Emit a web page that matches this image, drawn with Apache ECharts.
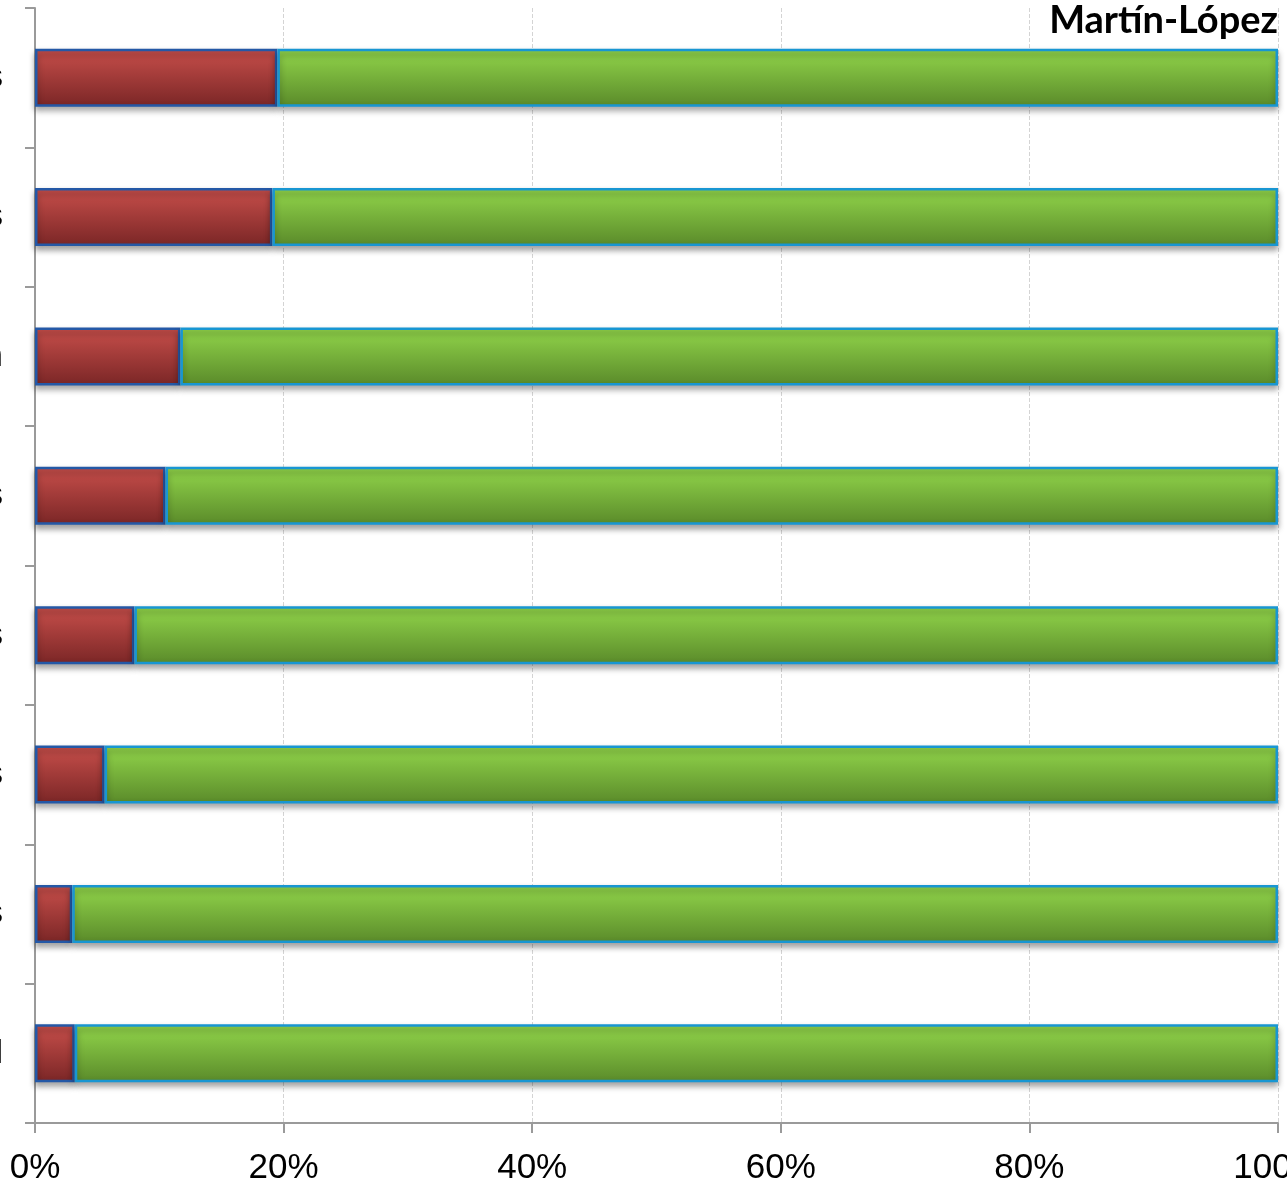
<!DOCTYPE html>
<html>
<head>
<meta charset="utf-8">
<style>
  html, body { margin: 0; padding: 0; background: #ffffff; }
  #chart { width: 1287px; height: 1189px; }
</style>
<script src="https://cdn.jsdelivr.net/npm/echarts@6/dist/echarts.min.js"></script>
</head>
<body>
<div id="chart"></div>
<script>
// Categories, listed top to bottom
const categories = [
  'Humedales costeros',
  'Bosques mediterráneos',
  'Pinares de Aragón',
  'Dehesas ibéricas',
  'Estepas cerealistas',
  'Ríos y riberas',
  'Sistemas agrícolas',
  'Espacio litoral'
];
// Share of each row in percent (the two parts sum to 100)
const redShare   = [19.5, 19.1, 11.7, 10.5, 8.0, 5.6, 3.0, 3.2];
const greenShare = [80.5, 80.9, 88.3, 89.5, 92.0, 94.4, 97.0, 96.8];
const xTicks = [0, 20, 40, 60, 80, 100];
const titleText = 'Martín-López';

const chart = echarts.init(document.getElementById('chart'), null, { renderer: 'canvas' });

function vGrad(top, bottom) {
  return new echarts.graphic.LinearGradient(0, 0, 0, 1, [
    { offset: 0, color: top },
    { offset: 1, color: bottom }
  ]);
}

const barShadow = {
  shadowColor: 'rgba(0,0,0,0.35)',
  shadowBlur: 6,
  shadowOffsetY: 4
};

chart.setOption({
  animation: false,
  backgroundColor: '#ffffff',
  title: {
    text: titleText,
    right: 4,
    top: -3,
    textStyle: {
      fontFamily: 'Lato',
      fontWeight: 'bold',
      fontSize: 38,
      color: '#000000'
    }
  },
  grid: {
    left: 35,
    right: 9,
    top: 8,
    bottom: 66,
    containLabel: false,
    outerBoundsMode: 'none'
  },
  xAxis: {
    type: 'value',
    min: xTicks[0],
    max: xTicks[xTicks.length - 1],
    interval: 20,
    axisLine: { show: true, lineStyle: { color: '#9a9a9a', width: 2 } },
    axisTick: { show: true, length: 10, lineStyle: { color: '#9a9a9a', width: 2 } },
    axisLabel: {
      formatter: v => v + '%',
      fontFamily: 'Liberation Sans',
      fontSize: 35,
      color: '#000000',
      margin: 28
    },
    splitLine: {
      show: true,
      lineStyle: { color: '#d4d4d4', width: 1, type: 'dashed' }
    }
  },
  yAxis: {
    type: 'category',
    data: categories,
    inverse: true,
    axisLine: { show: true, lineStyle: { color: '#9a9a9a', width: 2 } },
    axisTick: { show: true, length: 10, alignWithLabel: false, lineStyle: { color: '#9a9a9a', width: 2 } },
    axisLabel: {
      fontFamily: 'Liberation Sans',
      fontSize: 34,
      color: '#000000',
      margin: 32
    },
    splitLine: { show: false }
  },
  series: [
    {
      name: 'red',
      type: 'bar',
      stack: 'total',
      barWidth: 58,
      data: redShare,
      itemStyle: Object.assign({
        color: vGrad('#c84f4b', '#7a2626'),
        borderColor: '#2458a6',
        borderWidth: 2.5
      }, barShadow)
    },
    {
      name: 'green',
      type: 'bar',
      stack: 'total',
      barWidth: 58,
      data: greenShare,
      itemStyle: Object.assign({
        color: vGrad('#92d64b', '#5a8a2a'),
        borderColor: '#1896d2',
        borderWidth: 2.5
      }, barShadow)
    }
  ]
});
</script>
</body>
</html>
